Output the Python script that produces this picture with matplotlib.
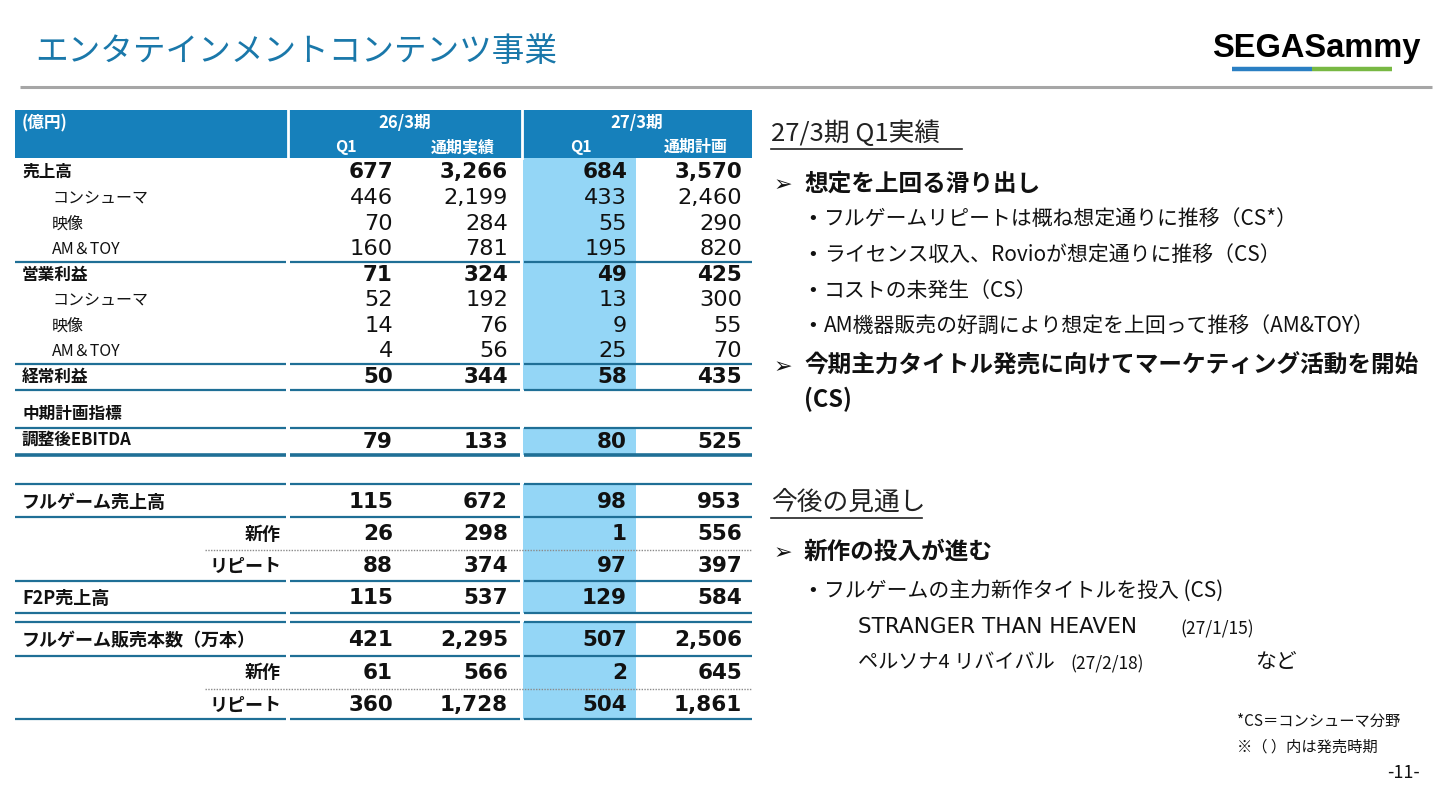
import matplotlib.pyplot as plt
from matplotlib.patches import Rectangle

plt.rcParams['font.family'] = ['Noto Sans CJK JP', 'DejaVu Sans']

# ---- data ----
upper_labels = ['売上高', 'コンシューマ', '映像', 'AM＆TOY', '営業利益',
                'コンシューマ', '映像', 'AM＆TOY', '経常利益']
upper_bold = [True, False, False, False, True, False, False, False, True]
q1_26 = [677, 446, 70, 160, 71, 52, 14, 4, 50]
full_26 = [3266, 2199, 284, 781, 324, 192, 76, 56, 344]
q1_27 = [684, 433, 55, 195, 49, 13, 9, 25, 58]
plan_27 = [3570, 2460, 290, 820, 425, 300, 55, 70, 435]

ebitda_label = '調整後EBITDA'
ebitda = [79, 133, 80, 525]

lower_labels = ['フルゲーム売上高', '新作', 'リピート', 'F2P売上高',
                'フルゲーム販売本数（万本）', '新作', 'リピート']
lower_values = [
    [115, 672, 98, 953],
    [26, 298, 1, 556],
    [88, 374, 97, 397],
    [115, 537, 129, 584],
    [421, 2295, 507, 2506],
    [61, 566, 2, 645],
    [360, 1728, 504, 1861],
]

period_labels = ['26/3期', '27/3期']
col_labels = ['Q1', '通期実績', 'Q1', '通期計画']

# ---- style ----
BLUE_HEAD = '#1680bb'
LINE = '#1f6f96'
HILITE = '#94d6f6'
TITLE_C = '#1a78aa'
TXT = '#111111'
NUM_FONT = 'DejaVu Sans'

fig = plt.figure(figsize=(14.51, 8.0), dpi=100)
ax = fig.add_axes([0, 0, 1, 1])
ax.set_xlim(0, 1451)
ax.set_ylim(800, 0)
ax.axis('off')

# title + rule
ax.text(35, 52, 'エンタテインメントコンテンツ事業', fontsize=23.5, color=TITLE_C,
        va='center', ha='left')
ax.plot([20, 1432], [87, 87], color='#a6a6a6', lw=2.2, solid_capstyle='butt')

# logo
ax.text(1316, 49, 'SEGASammy', family='Liberation Sans', fontweight='bold',
        fontsize=23.5, color='black', ha='center', va='center')
ax.plot([1232, 1312], [69, 69], color='#2a7fc3', lw=3.2, solid_capstyle='butt')
ax.plot([1312, 1392], [69, 69], color='#78b843', lw=3.2, solid_capstyle='butt')

# table geometry
segs = [(15, 286), (290, 520), (524, 752)]
num_x = [393, 508, 627, 742]
hl_x0, hl_x1 = 523, 636


def hline(y, lw=1.6, x0=15):
    for a, b in segs:
        a = max(a, x0)
        if a < b:
            ax.plot([a, b], [y, y], color=LINE, lw=lw, solid_capstyle='butt')


def dotted(y, x0=205):
    ax.plot([x0, 752], [y, y], color='#8a8a8a', lw=1.0, ls=(0, (1, 1)))


def hilite(y0, y1):
    ax.add_patch(Rectangle((hl_x0, y0), hl_x1 - hl_x0, y1 - y0,
                           facecolor=HILITE, edgecolor='none', zorder=0))


def nums(y, vals, bold, size=None):
    for x, v in zip(num_x, vals):
        ax.text(x, y, f'{v:,}', ha='right', va='center', family=NUM_FONT,
                fontweight='bold' if bold else 'normal',
                fontsize=size or (15.5 if bold else 16.2), color=TXT)


# header
ax.add_patch(Rectangle((15, 110), 737, 48, facecolor=BLUE_HEAD, edgecolor='none'))
for x in [288, 522]:
    ax.plot([x, x], [110, 158], color='white', lw=2)
ax.text(22, 123, '(億円)', color='white', fontweight='bold', fontsize=12,
        va='center')
ax.text(405, 123, period_labels[0], color='white', fontweight='bold',
        fontsize=12, ha='center', va='center')
ax.text(637, 123, period_labels[1], color='white', fontweight='bold',
        fontsize=12, ha='center', va='center')
for cx, lab in zip([346, 463, 581, 696], col_labels):
    ax.text(cx, 147, lab, color='white', fontweight='bold', fontsize=11.5,
            ha='center', va='center')

# upper block
upper_y = [172, 198, 224, 249, 275, 300, 326, 351, 377]
hilite(158, 390)
for i, y in enumerate(upper_y):
    b = upper_bold[i]
    ax.text(22 if b else 52, y, upper_labels[i], fontsize=12 if b else 11.5,
            fontweight='bold' if b else 'normal', va='center', color=TXT)
    nums(y, [q1_26[i], full_26[i], q1_27[i], plan_27[i]], b)
hline(262)
hline(364)
hline(390)

# mid-term KPI
ax.text(22, 414, '中期計画指標', fontsize=12, fontweight='bold', va='center',
        color=TXT)
hline(428)
hilite(428, 455)
ax.text(22, 440, ebitda_label, fontsize=12, fontweight='bold', va='center',
        color=TXT)
nums(442, ebitda, True)
hline(455, lw=2.6)

# lower block
lower_y = [502, 534, 566, 598, 640, 673, 705]
hilite(484, 613)
hilite(622, 719)
hline(484)
for i, y in enumerate(lower_y):
    lab = lower_labels[i]
    if lab in ('新作', 'リピート'):
        ax.text(281, y, lab, fontsize=13, fontweight='bold', ha='right',
                va='center', color=TXT)
    else:
        ax.text(22, y, lab, fontsize=13, fontweight='bold', ha='left',
                va='center', color=TXT)
    nums(y, lower_values[i], True)
hline(517)
dotted(550)
hline(581)
hline(613)
hline(622)
hline(656)
dotted(689)
hline(719)


# right-hand commentary
def heading(x, y, s, width):
    ax.text(x, y, s, fontsize=18.5, va='center', color='#222222')
    ax.plot([x, x + width], [y + 15, y + 15], color='#222222', lw=1.2)


def arrow_item(y, s):
    ax.text(774, y + 1, '➢', fontsize=16, va='center', color=TXT,
            family=['DejaVu Sans'])
    ax.text(804, y, s, fontsize=17, fontweight='bold', va='center', color=TXT)


def bullet(y, s, x=824):
    ax.text(x - 17, y, '•', fontsize=13, va='center', color=TXT,
            family=['DejaVu Sans'])
    ax.text(x, y, s, fontsize=15, va='center', color=TXT)


heading(771, 134, '27/3期 Q1実績', 191)
arrow_item(184, '想定を上回る滑り出し')
bullet(219, 'フルゲームリピートは概ね想定通りに推移（CS*）')
bullet(255, 'ライセンス収入、Rovioが想定通りに推移（CS）')
bullet(291, 'コストの未発生（CS）')
bullet(326, 'AM機器販売の好調により想定を上回って推移（AM&TOY）')
arrow_item(366, '今期主力タイトル発売に向けてマーケティング活動を開始')
ax.text(804, 399, '(CS)', fontsize=17, fontweight='bold', va='center',
        color=TXT)

heading(771, 503, '今後の見通し', 151)
arrow_item(552, '新作の投入が進む')
bullet(591, 'フルゲームの主力新作タイトルを投入 (CS)')
ax.text(858, 627, 'STRANGER THAN HEAVEN', fontsize=15.5, va='center', color=TXT,
        family=['DejaVu Sans'])
ax.text(1180, 629, '(27/1/15)', fontsize=12.5, va='center', color=TXT)
ax.text(858, 662, 'ペルソナ4 リバイバル', fontsize=14.5, va='center', color=TXT)
ax.text(1070, 664, '(27/2/18)', fontsize=12.5, va='center', color=TXT)
ax.text(1255, 662, 'など', fontsize=15, va='center', color=TXT)

ax.text(1237, 721, '*CS＝コンシューマ分野', fontsize=11, va='center', color=TXT)
ax.text(1237, 747, '※（ ）内は発売時期', fontsize=11, va='center', color=TXT)
ax.text(1420, 773, '-11-', fontsize=13, ha='right', va='center', color=TXT)

fig.savefig('out.png', dpi=100)
